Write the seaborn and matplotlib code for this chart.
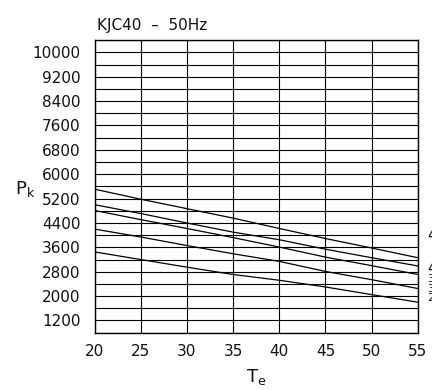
import numpy as np
import pandas as pd
import seaborn as sns
import matplotlib.pyplot as plt

# evaporating temperature (x) and the five curves
te = [20, 25, 30, 35, 40, 45, 50, 55]
curve_1 = [5510, 5180, 4870, 4560, 4220, 3890, 3580, 3260]
curve_2 = [5000, 4710, 4400, 4100, 3850, 3540, 3260, 2990]
curve_3 = [4810, 4510, 4220, 3920, 3610, 3280, 3000, 2710]
curve_4 = [4200, 3940, 3660, 3390, 3140, 2810, 2540, 2250]
curve_5 = [3450, 3200, 2950, 2710, 2520, 2300, 2050, 1800]
curve_names = ['45', '40', '35', '30', '25']
end_label_y = [3995, 2910, 2548, 2220, 1924]
end_label_size = [11, 11, 8, 8, 8]

x_ticks = [20, 25, 30, 35, 40, 45, 50, 55]
y_ticks = [1200, 2000, 2800, 3600, 4400, 5200, 6000, 6800, 7600, 8400, 9200, 10000]

curves = [curve_1, curve_2, curve_3, curve_4, curve_5]
data = pd.DataFrame({
    'Te': te * len(curves),
    'Pk': sum(curves, []),
    'Curve': [n for n in curve_names for _ in te],
})

sns.set_style('white')
plt.rcParams['font.family'] = ['DejaVu Sans']

fig = plt.figure(figsize=(4.32, 3.9), dpi=100)
ax = fig.add_axes([0.219, 0.147, 0.748, 0.75])

sns.lineplot(x='Te', y='Pk', hue='Curve', data=data, ax=ax,
             palette=['black'] * 5, linewidth=0.9, legend=False)

ax.set_xlim(20, 55)
ax.set_ylim(800, 10400)
ax.set_xticks(x_ticks)
ax.set_yticks(y_ticks)
ax.set_yticks(np.arange(800, 10401, 400), minor=True)
ax.grid(True, which='both', axis='y', color='black', linewidth=0.8)
ax.grid(True, which='major', axis='x', color='black', linewidth=0.8)
ax.tick_params(axis='both', which='both', length=0, labelsize=11, colors='#111111')
ax.tick_params(axis='x', pad=8)
ax.tick_params(axis='y', pad=10)
for s in ax.spines.values():
    s.set_color('black')
    s.set_linewidth(1.0)

ax.set_xlabel(r'T$_\mathregular{e}$', fontsize=13, labelpad=6, color='#111111')
ax.set_ylabel('')
fig.text(0.035, 0.515, r'P$_\mathregular{k}$', fontsize=13, ha='left', va='center', color='#111111')
fig.text(0.224, 0.935, 'KJC40  \u2013  50Hz', fontsize=11, ha='left', va='center', color='#111111')

for name, yv, fs in zip(curve_names, end_label_y, end_label_size):
    ax.text(1.029, yv, name, transform=ax.get_yaxis_transform(),
            fontsize=fs, ha='left', va='center', clip_on=False, color='#111111')

plt.savefig('out.png', dpi=100)
